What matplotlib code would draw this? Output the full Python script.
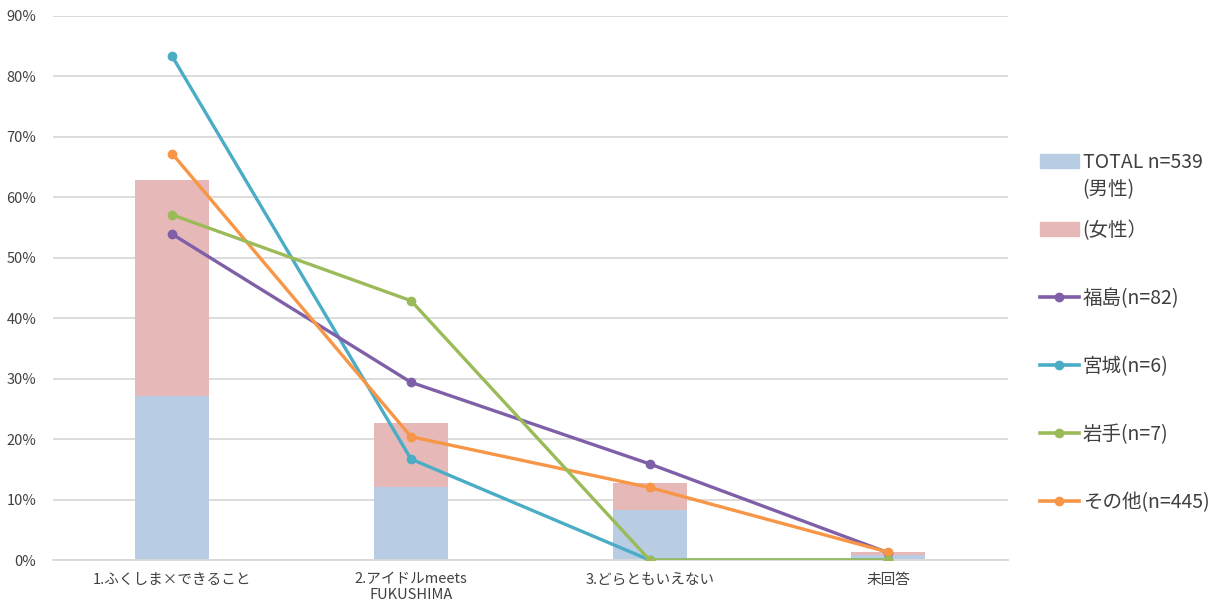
import matplotlib
matplotlib.use('Agg')
import matplotlib.pyplot as plt
from matplotlib.patches import Patch
from matplotlib.lines import Line2D
from matplotlib.ticker import PercentFormatter

plt.rcParams['font.family'] = ['Noto Sans CJK JP', 'DejaVu Sans']

# Answer categories
categories = ['1.ふくしま×できること', '2.アイドルmeets\nFUKUSHIMA', '3.どらともいえない', '未回答']

# Stacked bars (TOTAL n=539): male part, female part (%)
male = [27.2, 12.1, 8.2, 0.8]
female = [35.7, 10.5, 4.6, 0.5]

# Lines by prefecture (%)
fukushima = [53.9, 29.4, 15.9, 1.2]
miyagi = [83.3, 16.7, 0.0, 0.0]
iwate = [57.1, 42.9, 0.0, 0.0]
others = [67.2, 20.4, 12.0, 1.3]

line_series = [
    ('宮城(n=6)', miyagi, '#4bacc6'),
    ('福島(n=82)', fukushima, '#7f60a8'),
    ('その他(n=445)', others, '#f79646'),
    ('岩手(n=7)', iwate, '#9bbb59'),
]
colors = {lab: col for lab, _, col in line_series}

fig = plt.figure(figsize=(12.2, 6.08), dpi=100)
ax = fig.add_axes([0.0434, 0.0789, 0.7826, 0.8948])

x = range(len(categories))
ax.bar(x, male, width=0.31, color='#b8cce4', zorder=2)
ax.bar(x, female, width=0.31, bottom=male, color='#e6b9b8', zorder=2)

for label, vals, col in line_series:
    ax.plot(x, vals, color=col, linewidth=2.4, marker='o', markersize=6, zorder=3)

ax.set_xlim(-0.5, 3.5)
ax.set_ylim(0, 90)
ax.set_yticks(range(0, 91, 10))
ax.yaxis.set_major_formatter(PercentFormatter(decimals=0))
ax.set_xticks(list(x))
ax.set_xticklabels(categories, fontsize=10.5, color='#404040', linespacing=1.15)
ax.tick_params(axis='y', labelsize=10.5, colors='#404040', length=0, pad=12)
ax.tick_params(axis='x', length=0, pad=9)
ax.grid(axis='y', color='#d9d9d9', linewidth=1.3, zorder=0)
for s in ['top', 'right', 'left']:
    ax.spines[s].set_visible(False)
ax.spines['bottom'].set_color('#d9d9d9')
ax.spines['bottom'].set_linewidth(1.3)

handles = [
    Patch(color='#b8cce4', label='TOTAL n=539'),
    Patch(color='#e6b9b8', label='(女性）'),
]
for lab in ['福島(n=82)', '宮城(n=6)', '岩手(n=7)', 'その他(n=445)']:
    handles.append(Line2D([], [], color=colors[lab], lw=2.6, marker='o', ms=6, label=lab))

leg = fig.legend(handles=handles, loc='upper left', bbox_to_anchor=(0.838, 0.779),
                 frameon=False, fontsize=14, labelspacing=2.42, handlelength=2.0,
                 handletextpad=0.2, labelcolor='#404040')

# second line of the TOTAL entry, placed right under its label
fig.canvas.draw()
first = leg.get_texts()[0]
bb = first.get_window_extent().transformed(fig.transFigure.inverted())
fig.text(bb.x0, bb.y0 - 0.01, '(男性)', fontsize=14, color='#404040', va='top', ha='left')

fig.savefig('out.png', dpi=100)
